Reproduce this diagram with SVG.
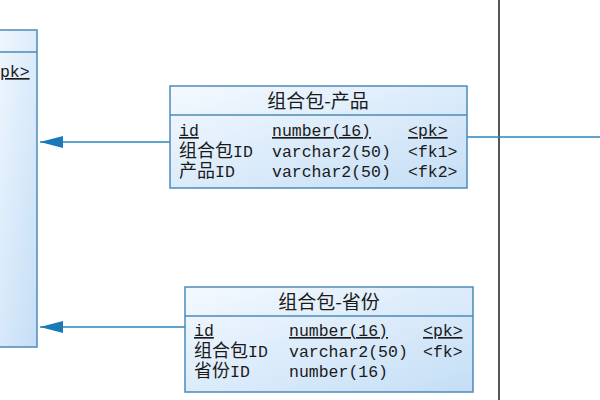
<svg xmlns="http://www.w3.org/2000/svg" width="600" height="400" viewBox="0 0 600 400">
<defs>
<linearGradient id="g" x1="0" y1="0" x2="1" y2="1">
<stop offset="0" stop-color="#f4f9ff"/>
<stop offset="1" stop-color="#c4def6"/>
</linearGradient>
<marker id="arr" markerWidth="24" markerHeight="14" refX="23" refY="7" orient="auto" markerUnits="userSpaceOnUse">
<path d="M23,7 L0,1 L0,13 Z" fill="#1a7ab8"/>
</marker>
<style>
.box{fill:url(#g);stroke:#4d8ab8;stroke-width:1.5}
.sep{stroke:#4d8ab8;stroke-width:1.5}
.hd{font-family:"Noto Sans CJK SC",sans-serif;font-size:19px;fill:#1a1a1a;text-anchor:middle}
.t{font-family:"Liberation Mono","Noto Sans CJK SC",monospace;font-size:16.5px;fill:#1a1a1a}
.c{font-family:"Noto Sans CJK SC",sans-serif;font-size:18px}
.u{text-decoration:underline}
.con{stroke:#2a86c0;stroke-width:1.5;fill:none}
</style>
</defs>
<line x1="499" y1="0" x2="499" y2="400" stroke="#555" stroke-width="2"/>
<g id="left">
<rect class="box" x="-10" y="30" width="47" height="317"/>
<line class="sep" x1="-10" y1="52" x2="37" y2="52"/>
<text class="t u" x="-10" y="77">&lt;pk&gt;</text>
</g>
<g id="connectors">
<line class="con" x1="170" y1="142" x2="40" y2="142" marker-end="url(#arr)"/>
<line class="con" x1="185" y1="327" x2="40" y2="327" marker-end="url(#arr)"/>
<line class="con" x1="467" y1="137" x2="600" y2="137"/>
</g>
<g id="n1">
<rect class="box" x="170" y="86" width="297" height="102"/>
<line class="sep" x1="170" y1="115" x2="467" y2="115"/>
<text class="hd" x="318" y="108">组合包-产品</text>
<text class="t u" x="179" y="136">id</text>
<text class="t u" x="272" y="136">number(16)</text>
<text class="t u" x="408" y="136">&lt;pk&gt;</text>
<text class="t" x="179" y="157"><tspan class="c">组合包</tspan>ID</text>
<text class="t" x="272" y="157">varchar2(50)</text>
<text class="t" x="408" y="157">&lt;fk1&gt;</text>
<text class="t" x="179" y="177"><tspan class="c">产品</tspan>ID</text>
<text class="t" x="272" y="177">varchar2(50)</text>
<text class="t" x="408" y="177">&lt;fk2&gt;</text>
</g>
<g id="n2">
<rect class="box" x="185" y="287" width="288" height="105"/>
<line class="sep" x1="185" y1="316" x2="473" y2="316"/>
<text class="hd" x="329" y="309">组合包-省份</text>
<text class="t u" x="194" y="336">id</text>
<text class="t u" x="289" y="336">number(16)</text>
<text class="t u" x="423" y="336">&lt;pk&gt;</text>
<text class="t" x="194" y="357"><tspan class="c">组合包</tspan>ID</text>
<text class="t" x="289" y="357">varchar2(50)</text>
<text class="t" x="423" y="357">&lt;fk&gt;</text>
<text class="t" x="194" y="377"><tspan class="c">省份</tspan>ID</text>
<text class="t" x="289" y="377">number(16)</text>
</g>
</svg>
